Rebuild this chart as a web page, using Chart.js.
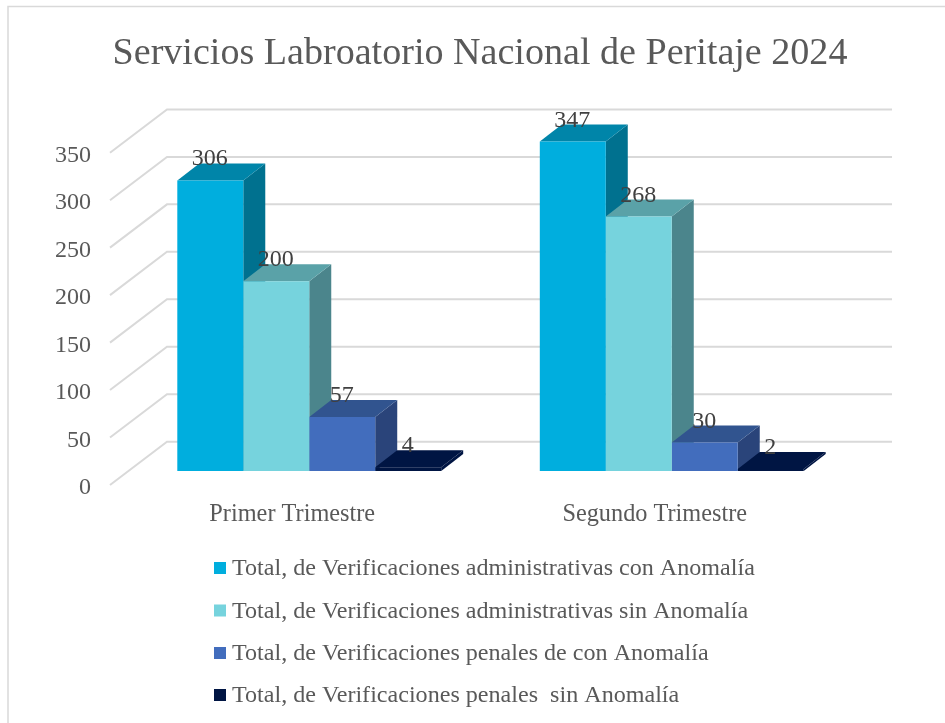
<!DOCTYPE html>
<html>
<head>
<meta charset="utf-8">
<title>Servicios Labroatorio Nacional de Peritaje 2024</title>
<script src="https://cdn.jsdelivr.net/npm/chart.js@4"></script>
<style>
  html, body { margin: 0; padding: 0; background: #fff; overflow: hidden; }
  canvas { display: block; }
</style>
</head>
<body>
<canvas id="chart" width="945" height="723"></canvas>
<script>
// Data
const categories = ['Primer Trimestre', 'Segundo Trimestre'];
const adminConAnomalia = [306, 347];
const adminSinAnomalia = [200, 268];
const penalesConAnomalia = [57, 30];
const penalesSinAnomalia = [4, 2];
const seriesNames = [
    'Total, de Verificaciones administrativas con Anomalía',
    'Total, de Verificaciones administrativas sin Anomalía',
    'Total, de Verificaciones penales de con Anomalía',
    'Total, de Verificaciones penales  sin Anomalía'
];
const frontColors = ['#00aede', '#76d3dd', '#426dbd', '#001543'];
const topColors = ['#0085a9', '#5aa2a8', '#31548f', '#001543'];
const sideColors = ['#00718f', '#4b858c', '#2a447a', '#001543'];

const serif = '"Liberation Serif", "Times New Roman", serif';

// Fake 3D depth, in pixels
const barDepthX = 22, barDepthY = 17;
const wallDepthX = 39, wallDepthY = 29.3;
const floorFrontX = 18, floorFrontY = 14;

// Outer frame of the chart, cut off on the right and at the bottom
const framePlugin = {
    id: 'frame',
    beforeDraw(chart) {
        const ctx = chart.ctx;
        ctx.save();
        ctx.strokeStyle = '#d9d9d9';
        ctx.lineWidth = 1.5;
        ctx.beginPath();
        ctx.moveTo(8, 723);
        ctx.lineTo(8, 6.5);
        ctx.lineTo(945, 6.5);
        ctx.stroke();
        ctx.restore();
    }
};

// The title sits a bit right of the plot's own centre
const titleShiftPlugin = {
    id: 'titleShift',
    afterLayout(chart) {
        chart.titleBlock.left = 20;
        chart.titleBlock.right = 940;
    }
};

// Back wall gridlines and the diagonals on the left wall
const wallPlugin = {
    id: 'wall',
    beforeDatasetsDraw(chart) {
        const { ctx, chartArea, scales } = chart;
        ctx.save();
        ctx.strokeStyle = '#d9d9d9';
        ctx.lineWidth = 2;
        scales.y.ticks.forEach(t => {
            const y = scales.y.getPixelForValue(t.value);
            ctx.beginPath();
            ctx.moveTo(chartArea.left - floorFrontX, y + floorFrontY);
            ctx.lineTo(chartArea.left + wallDepthX, y - wallDepthY);
            ctx.lineTo(chartArea.right + wallDepthX, y - wallDepthY);
            ctx.stroke();
        });
        ctx.restore();
    }
};

function face(ctx, color, pts) {
    ctx.fillStyle = color;
    ctx.beginPath();
    pts.forEach((p, i) => i ? ctx.lineTo(p[0], p[1]) : ctx.moveTo(p[0], p[1]));
    ctx.closePath();
    ctx.fill();
}

// Top and side faces of each bar, the library draws the front afterwards
const facesPlugin = {
    id: 'faces',
    beforeDatasetsDraw(chart) {
        const ctx = chart.ctx;
        ctx.save();
        chart.data.datasets.forEach((ds, i) => {
            chart.getDatasetMeta(i).data.forEach(bar => {
                const l = bar.x - bar.width / 2, r = bar.x + bar.width / 2;
                const t = bar.y, b = bar.base;
                face(ctx, sideColors[i], [[r, t], [r + barDepthX, t - barDepthY], [r + barDepthX, b - barDepthY], [r, b]]);
                face(ctx, topColors[i], [[l, t], [l + barDepthX, t - barDepthY], [r + barDepthX, t - barDepthY], [r, t]]);
            });
        });
        ctx.restore();
    }
};

// Value labels above the bars
const valuesPlugin = {
    id: 'values',
    afterDatasetsDraw(chart) {
        const ctx = chart.ctx;
        ctx.save();
        ctx.font = '24px ' + serif;
        ctx.fillStyle = '#404040';
        ctx.textAlign = 'center';
        ctx.textBaseline = 'alphabetic';
        chart.data.datasets.forEach((ds, i) => {
            chart.getDatasetMeta(i).data.forEach((bar, j) => {
                ctx.fillText(ds.data[j], bar.x - 0.5, bar.y - 15);
            });
        });
        ctx.restore();
    }
};

// Legend in one left aligned column
const legendPlugin = {
    id: 'columnLegend',
    afterDraw(chart) {
        const ctx = chart.ctx;
        const rowY = [568, 610.5, 653, 695];
        ctx.save();
        ctx.font = '24.1px ' + serif;
        ctx.textBaseline = 'middle';
        chart.data.datasets.forEach((ds, i) => {
            ctx.fillStyle = ds.backgroundColor;
            ctx.fillRect(214, rowY[i] - 6, 12, 12);
            ctx.fillStyle = '#595959';
            ctx.fillText(ds.label, 232, rowY[i] + 1);
        });
        ctx.restore();
    }
};

const seriesValues = [adminConAnomalia, adminSinAnomalia, penalesConAnomalia, penalesSinAnomalia];

new Chart(document.getElementById('chart'), {
    type: 'bar',
    data: {
        labels: categories,
        datasets: seriesValues.map((values, i) => ({
            label: seriesNames[i],
            data: values,
            backgroundColor: frontColors[i],
            borderWidth: 0,
            barPercentage: 1,
            categoryPercentage: 0.728
        }))
    },
    options: {
        responsive: false,
        animation: false,
        layout: { padding: { top: 13, left: 20, right: 92, bottom: 172 } },
        plugins: {
            legend: { display: false },
            tooltip: { enabled: false },
            title: {
                display: true,
                text: 'Servicios Labroatorio Nacional de Peritaje 2024',
                color: '#595959',
                font: { family: serif, size: 38.1, weight: 'normal', lineHeight: 1.2 },
                padding: { top: 18, bottom: 62 }
            }
        },
        scales: {
            x: {
                border: { display: false },
                grid: { display: false },
                afterFit(scale) { scale.height = 80; },
                ticks: {
                    color: '#595959',
                    font: { family: serif, size: 24.3 },
                    padding: 21,
                    labelOffset: -17,
                    maxRotation: 0
                }
            },
            y: {
                min: 0,
                max: 350,
                border: { display: false },
                grid: { display: false, drawTicks: false },
                afterFit(scale) { scale.width = 108; },
                ticks: {
                    stepSize: 50,
                    color: '#595959',
                    font: { family: serif, size: 24 },
                    padding: 37,
                    labelOffset: 17
                }
            }
        }
    },
    plugins: [framePlugin, titleShiftPlugin, wallPlugin, facesPlugin, valuesPlugin, legendPlugin]
});
</script>
</body>
</html>
